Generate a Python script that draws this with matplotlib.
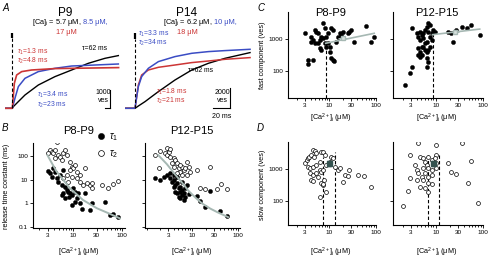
import numpy as np
import matplotlib
matplotlib.use('Agg')
import matplotlib.pyplot as plt
import matplotlib.transforms as mt
from matplotlib.ticker import FixedLocator, NullLocator, LogLocator, NullFormatter, FixedFormatter

plt.rcParams['font.family'] = ['Liberation Sans', 'DejaVu Sans']
plt.rcParams['mathtext.fontset'] = 'custom'
plt.rcParams['mathtext.rm'] = 'Liberation Sans'
plt.rcParams['mathtext.it'] = 'Liberation Sans:italic'
plt.rcParams['mathtext.sf'] = 'Liberation Sans'

# ---------------- data ----------------
RED = '#cc3535'
BLUE = '#3a4cc4'
GRAYFIT = '#a6b8b3'
MEANC = '#33524f'

# Panel A, P9 traces (time ms, vesicles)
p9_red_t = [-8.6, 0, 2.4, 5.1, 11, 22.7, 50, 125]
p9_red_v = [0, 0, 1366, 1820, 2005, 2093, 2170, 2224]
p9_blue_t = [-8.6, 0, 3.1, 7.1, 14.9, 30.6, 50.2, 69.8, 124.7]
p9_blue_v = [0, 0, 546, 1186, 1639, 2005, 2186, 2311, 2421]
p9_blk_t = [-8.6, 0, 1.2, 7.1, 14.9, 30.6, 50.2, 69.8, 89.4, 109, 124.7]
p9_blk_v = [0, 0, 91, 366, 727, 1273, 1732, 2093, 2459, 2732, 2880]

# Panel A, P14 traces
p14_t = [-11.8, 0, 2.0, 3.9, 7.8, 15.7, 27.5, 47, 66.7, 86.3, 105.9, 135.3]
p14_blue_v = [0, 0, 1170, 2170, 3170, 4000, 4670, 5170, 5500, 5670, 5770, 5900]
p14_red_v = [0, 0, 1170, 2330, 3330, 3830, 4100, 4330, 4570, 4730, 4900, 5070]
p14_blk_t = [-11.8, 0, 3.9, 11.8, 19.6, 27.5, 47, 66.7, 86.3, 105.9, 135.3]
p14_blk_v = [0, 0, 230, 670, 1170, 1670, 2830, 3830, 4500, 5000, 5570]

# Panel B, P8-P9
bl_t1_x = [3.05, 3.3, 3.57, 3.86, 4.18, 4.53, 4.89, 5.3, 6.2, 5.7, 6.7, 7.3, 7.85, 8.5, 9.2, 10, 10.8,
           6.2, 5.7, 6.7, 9.2, 11.7, 13.6, 14.8, 17.3, 23.8, 21.9, 45, 57, 66, 84, 10.8, 8.2, 12.6]
bl_t1_y = [23.2, 18.5, 13.4, 30, 21.7, 11.4, 8.2, 15.7, 25.6, 6.0, 5.1, 3.66, 3.1, 2.65, 2.25, 4.3, 3.1,
           2.65, 2.25, 1.63, 0.85, 1.63, 1.0, 0.58, 2.65, 1.0, 0.52, 1.1, 0.32, 0.35, 0.27, 1.17, 1.9, 2.65]
bl_t2_x = [4.5, 3.3, 3.57, 3.86, 4.18, 4.89, 5.3, 6.2, 6.7, 7.3, 4.18, 5.7, 9.2, 10, 8.5, 11.7, 17.3,
           7.3, 9.2, 11.7, 13.6, 13.6, 15.6, 21.9, 23.8, 38, 52, 66, 84, 6.2, 7.85, 8.5, 10.8, 3.05, 18.9, 23.8]
bl_t2_y = [400, 179, 151, 130, 179, 110, 94, 130, 179, 110, 80, 68, 35, 30, 25.6, 21.7, 30,
           15.7, 13.4, 11.4, 15.7, 8.2, 6.0, 6.0, 4.3, 6.0, 4.3, 6.3, 8.8, 11.4, 8.2, 57, 42, 130, 7.1, 7.1]
bl_fit_x = [2.9, 3.5, 4.5, 6, 8.5, 11, 15.6, 21, 30.4, 50, 91]
bl_fit_y = [110, 55, 22, 10.5, 4.3, 2.7, 1.4, 0.97, 0.62, 0.40, 0.23]

# Panel B, P12-P15
br_t1_x = [1.56, 2.0, 2.38, 2.81, 3.32, 3.6, 3.93, 4.27, 4.66, 5.07, 5.5, 4.27, 4.66, 5.5, 6.0, 6.5, 7.1,
           5.07, 6.0, 7.1, 3.93, 8.4, 12.8, 15.1, 19.5, 25, 41, 58, 3.32, 3.93, 4.66, 6.0, 7.7, 6.5, 5.5]
br_t1_y = [12.2, 9.7, 13.4, 15.7, 11.4, 8.2, 9.7, 6.0, 7.0, 4.3, 5.1, 3.1, 2.65, 3.1, 2.25, 2.65, 1.9,
           1.9, 3.66, 4.3, 5.1, 2.4, 2.04, 1.29, 0.72, 3.4, 0.49, 0.28, 18.5, 15.7, 13.4, 8.2, 6.0, 1.38, 1.63]
br_t2_x = [1.51, 2.0, 2.58, 2.81, 3.06, 3.15, 3.32, 3.93, 4.27, 4.66, 3.93, 5.07, 6.0, 6.5, 5.5, 4.66,
           7.1, 7.7, 7.7, 1.85, 12.8, 25, 15.1, 19.5, 35, 44, 58, 3.6, 5.5, 8.4, 6.0, 4.27, 9.1, 2.81, 3.2]
br_t2_y = [110, 163, 130, 110, 179, 143, 94, 80, 68, 49, 35, 30, 35, 25.6, 21.7, 18.5,
           30, 57, 15.7, 30, 25.6, 35, 4.3, 4.0, 4.0, 6.3, 3.9, 49, 42, 35, 15.7, 13.4, 21.7, 211, 200]
br_fit_x = [1.8, 2.8, 4.3, 6, 8.4, 12, 16.4, 25, 36, 62]
br_fit_y = [110, 45, 16, 7.5, 3.3, 1.7, 1.0, 0.6, 0.42, 0.26]

# Panel C (fast component)
cl_x = [3.0, 3.53, 3.5, 4.5, 4.16, 4.5, 4.16, 4.9, 5.3, 5.75, 4.9, 5.75, 6.25, 6.8, 7.35, 8.0, 6.8, 6.25,
        8.0, 7.35, 8.7, 9.4, 9.4, 10.2, 8.7, 10.2, 11.1, 12, 12.5, 11.1, 12, 14.2, 15.3, 16.7, 18.1, 19.6,
        25, 27, 29.5, 34.7, 61.6, 78.7, 92]
cl_y = [1545, 166, 222, 222, 1210, 950, 840, 1960, 1740, 1545, 750, 750, 950, 1210, 3200, 2220, 460, 520,
        750, 1075, 1210, 1545, 750, 585, 585, 406, 251, 222, 211, 2220, 1960, 840, 1210, 1545, 1370, 1740,
        1545, 1740, 1960, 840, 2630, 840, 1210]
cl_fit_x = [8.4, 92]
cl_fit_y = [750, 1545]
cl_mean = (19.6, 1075)
cl_mean_xerr = 4
cl_break = (8.4, 750)

cr_x = [2.24, 2.86, 3.1, 3.1, 4.28, 4.65, 5.04, 6.44, 6.97, 6.7, 3.96, 4.28, 4.65, 4.65, 5.04, 5.46, 5.46,
        5.93, 6.44, 6.97, 7.57, 6.97, 5.93, 6.44, 7.57, 8.2, 8.2, 8.87, 9.64, 5.46, 5.93, 6.44, 6.97, 7.57,
        5.04, 4.28, 4.65, 18.4, 21.7, 23.5, 35.4, 45.2, 57.6, 86, 27.7]
cr_y = [36, 85, 137, 2220, 320, 282, 320, 251, 197, 137, 1545, 1210, 1740, 950, 1370, 1545, 1075,
        1960, 2500, 3200, 2820, 1740, 750, 840, 1210, 1545, 950, 1960, 1740, 585, 460, 406, 460, 585,
        585, 520, 406, 1740, 1545, 840, 2500, 2220, 2820, 1370, 1960]
cr_fit_x = [8.6, 86]
cr_fit_y = [1400, 2100]
cr_mean = (25.5, 1740)
cr_mean_xerr = 5
cr_break = (8.6, 1400)

# Panel D (slow component)
dl_x = [3.0, 3.27, 3.53, 3.63, 3.53, 4.16, 4.5, 4.9, 5.3, 4.73, 3.87, 4.5, 5.3, 6.25, 6.8, 7.35, 8.0,
        6.25, 6.8, 7.35, 8.7, 3.87, 4.5, 5.3, 5.75, 4.16, 4.5, 6.8, 7.35, 6.25, 8.7, 10.2, 10.7, 12, 13.1,
        15.3, 16.7, 21.3, 25, 27, 19.6, 40.8, 56, 78.7, 7.7, 7.35]
dl_y = [1546, 1970, 2220, 2510, 1214, 2840, 4080, 3800, 3200, 2510, 1075, 1214, 1370, 1745, 3610, 3440,
        2840, 953, 844, 953, 1370, 748, 662, 748, 587, 460, 428, 361, 320, 137, 197, 1745, 2510, 2220,
        1214, 953, 1075, 662, 631, 953, 408, 662, 616, 284, 460, 336]
dl_mean = (9.7, 1546)
dl_mean_yerr = 250
dl_dash_x = [7.35, 13.1]
dl_dash_top = [2510, 3600]

dr_x = [4.28, 10.4, 35.4, 2.86, 4.65, 5.46, 6.97, 5.93, 8.2, 10.4, 9.64, 10.4, 6.44, 5.46, 6.97, 8.2,
        10.4, 3.65, 3.96, 4.28, 5.93, 6.97, 5.04, 8.2, 2.86, 3.96, 5.46, 6.97, 8.2, 5.93, 6.97, 4.65,
        2.63, 2.06, 18.4, 21.7, 27.7, 49.6, 57.6, 79.5]
dr_y = [6600, 6000, 6600, 2840, 2510, 2220, 2510, 1745, 1970, 2840, 2220, 1546, 1370, 1075, 1075, 953,
        1075, 1370, 953, 748, 748, 587, 587, 662, 545, 460, 460, 361, 336, 251, 197, 284, 207, 70, 1546,
        844, 695, 361, 1830, 84]
dr_mean = (8.87, 1546)
dr_mean_yerr = 300
dr_dash_x = [6.97, 11.9]
dr_dash_top = [2840, 3200]

xtick_vals = [3, 10, 30, 100]
xtick_labels = ['3', '10', '30', '100']

# ---------------- figure ----------------
W, H = 490, 258
fig = plt.figure(figsize=(W / 100, H / 100), dpi=100)
PX = mt.Affine2D().scale(1 / W, -1 / H).translate(0, 1) + fig.transFigure


def axpx(l, t, r, b):
    return fig.add_axes([l / W, 1 - b / H, (r - l) / W, (b - t) / H])


def txt(x, y, s, size=5.2, color='black', ha='left', va='center', **kw):
    fig.text(x, y, s, transform=PX, fontsize=size, color=color, ha=ha, va=va, **kw)


# ---- Panel A ----
def trace_axes(l, t, r, b, xlim, ylim):
    ax = axpx(l, t, r, b)
    ax.set_xlim(*xlim)
    ax.set_ylim(*ylim)
    ax.axis('off')
    return ax

axA1 = trace_axes(5, 25, 122, 115, (-8.6, 129), (-366, 4552))
axA1.plot(p9_blk_t, p9_blk_v, color='black', lw=1.0)
axA1.plot(p9_blue_t, p9_blue_v, color=BLUE, lw=1.1)
axA1.plot(p9_red_t, p9_red_v, color=RED, lw=1.2)
axA1.plot([-0.7, -0.7], [0, 3850], color='black', lw=0.8, ls=(0, (3, 2)))
axA1.plot([-0.7, -0.7], [3850, 4110], color='black', lw=1.6, solid_capstyle='butt')
# scale bar 1000 ves
axA1.plot([115.3, 115.3], [0, 1000], color='black', lw=0.8)
axA1.plot([109.5, 115.3], [0, 0], color='black', lw=0.8)

axA2 = trace_axes(125, 25, 252, 115, (-11.8, 137.6), (-670, 8330))
axA2.plot(p14_blk_t, p14_blk_v, color='black', lw=1.0)
axA2.plot(p14_t, p14_red_v, color=RED, lw=1.1)
axA2.plot(p14_t, p14_blue_v, color=BLUE, lw=1.1)
axA2.plot([-0.5, -0.5], [0, 6900], color='black', lw=0.8, ls=(0, (3, 2)))
axA2.plot([-0.5, -0.5], [6900, 7500], color='black', lw=1.6, solid_capstyle='butt')
# scale bars 2000 ves, 20 ms
axA2.plot([111.8, 111.8], [0, 2000], color='black', lw=0.8)
axA2.plot([91.8, 111.8], [0, 0], color='black', lw=0.8)

txt(2, 8, 'A', size=7, style='italic')
txt(65, 13, 'P9', size=8.5, ha='center')
txt(81.5, 23, '[Ca]$_\\mathrm{i}$ = 5.7 \u03bcM,', size=5.3, ha='right')
txt(83, 23, '8.5 \u03bcM,', size=5.3, color=BLUE)
txt(66, 33, '17 \u03bcM', size=5.3, color=RED, ha='center')
txt(17, 51.5, '$\\tau_1$=1.3 ms', size=4.9, color=RED)
txt(17, 61, '$\\tau_2$=4.8 ms', size=4.9, color=RED)
txt(82, 49, '\u03c4=62 ms', size=4.9)
txt(37, 95, '$\\tau_1$=3.4 ms', size=4.9, color=BLUE)
txt(37, 104.5, '$\\tau_2$=23 ms', size=4.9, color=BLUE)
txt(103, 93, '1000', size=5.0, ha='center')
txt(103, 101, 'ves', size=5.0, ha='center')

txt(187, 13, 'P14', size=8.5, ha='center')
txt(212.5, 23, '[Ca]$_\\mathrm{i}$ = 6.2 \u03bcM,', size=5.3, ha='right')
txt(214, 23, '10 \u03bcM,', size=5.3, color=BLUE)
txt(187, 33, '18 \u03bcM', size=5.3, color=RED, ha='center')
txt(138, 33.5, '$\\tau_1$=3.3 ms', size=4.9, color=BLUE)
txt(138, 43, '$\\tau_2$=34 ms', size=4.9, color=BLUE)
txt(188, 71, '\u03c4=62 ms', size=4.9)
txt(156, 91.5, '$\\tau_1$=1.8 ms', size=4.9, color=RED)
txt(156, 101, '$\\tau_2$=21 ms', size=4.9, color=RED)
txt(222, 92, '2000', size=5.0, ha='center')
txt(222, 100, 'ves', size=5.0, ha='center')
txt(222, 116, '20 ms', size=5.0, ha='center')


# ---- scatter axes helper ----
def style_axes(ax, xlim, ylim, yticks, yticklabels, show_ylabels):
    ax.set_xscale('log')
    ax.set_yscale('log')
    ax.set_xlim(*xlim)
    ax.set_ylim(*ylim)
    for s in ['top', 'right']:
        ax.spines[s].set_visible(False)
    for s in ['left', 'bottom']:
        ax.spines[s].set_linewidth(0.8)
    ax.xaxis.set_major_locator(FixedLocator(xtick_vals))
    ax.xaxis.set_major_formatter(FixedFormatter(xtick_labels))
    ax.xaxis.set_minor_locator(LogLocator(base=10, subs=np.arange(1, 10), numticks=20))
    ax.xaxis.set_minor_formatter(NullFormatter())
    ax.yaxis.set_major_locator(FixedLocator(yticks))
    ax.yaxis.set_minor_locator(NullLocator())
    if show_ylabels:
        ax.yaxis.set_major_formatter(FixedFormatter(yticklabels))
    else:
        ax.yaxis.set_major_formatter(NullFormatter())
    ax.tick_params(which='both', direction='out', width=0.6, labelsize=4.6, pad=1.5)
    ax.tick_params(which='major', length=2.2)
    ax.tick_params(which='minor', length=1.6)


def filled(ax, x, y, **kw):
    return ax.plot(x, y, 'o', ms=3.0, mfc='black', mec='black', mew=0.3, ls='none', **kw)[0]


def hollow(ax, x, y, **kw):
    return ax.plot(x, y, 'o', ms=2.8, mfc='white', mec='black', mew=0.5, ls='none', **kw)[0]


B_yt = [0.1, 1, 10, 100]
B_ytl = ['0.1', '1', '10', '100']
B_ylim = (0.091, 354)

axBL = axpx(33, 143, 125, 228)
style_axes(axBL, (1.47, 115), B_ylim, B_yt, B_ytl, True)
h2 = hollow(axBL, bl_t2_x, bl_t2_y, label='$\\tau_2$')
h1 = filled(axBL, bl_t1_x, bl_t1_y, label='$\\tau_1$')
axBL.plot(bl_fit_x, bl_fit_y, color=GRAYFIT, lw=1.4, zorder=5, solid_capstyle='round')
leg = axBL.legend(handles=[h1, h2], loc='upper left', bbox_to_anchor=(98, 131), bbox_transform=PX,
                  frameon=False, fontsize=7, handlelength=0.7, handletextpad=0.4, labelspacing=0.55,
                  borderpad=0, borderaxespad=0, markerscale=1.5)

axBR = axpx(145, 143, 240, 228)
style_axes(axBR, (0.925, 112), B_ylim, B_yt, B_ytl, False)
hollow(axBR, br_t2_x, br_t2_y)
filled(axBR, br_t1_x, br_t1_y)
axBR.plot(br_fit_x, br_fit_y, color=GRAYFIT, lw=1.4, zorder=5, solid_capstyle='round')

txt(2, 128, 'B', size=7, style='italic')
txt(79, 131, 'P8-P9', size=8, ha='center')
txt(192, 131, 'P12-P15', size=8, ha='center')
txt(6, 186, 'release time constant (ms)', size=5.2, rotation=90, ha='center')
CA_LABEL = '[Ca$^{2+}$]$_\\mathrm{i}$ (\u03bcM)'
txt(79, 252, CA_LABEL, size=5.2, ha='center')
txt(192, 252, CA_LABEL, size=5.2, ha='center')

# ---- Panel C ----
C_yt = [100, 1000]
C_ytl = ['100', '1000']

axCL = axpx(288, 12, 376, 98)
style_axes(axCL, (1.31, 100.5), (14.1, 7260), C_yt, C_ytl, True)
axCL.plot([cl_break[0], cl_break[0]], [14.1, cl_break[1]], color='black', lw=0.8, ls=(0, (3, 2)))
filled(axCL, cl_x, cl_y)
axCL.plot(cl_fit_x, cl_fit_y, color=GRAYFIT, lw=1.2, zorder=5)
axCL.errorbar([cl_mean[0]], [cl_mean[1]], xerr=[[cl_mean_xerr], [cl_mean_xerr * 1.3]], fmt='s', ms=3,
              mfc='#d8e0de', mec=GRAYFIT, ecolor=GRAYFIT, elinewidth=0.7, capsize=0, zorder=6)

axCR = axpx(393, 12, 483, 98)
style_axes(axCR, (1.25, 101), (14.1, 7260), C_yt, C_ytl, False)
axCR.plot([cr_break[0], cr_break[0]], [14.1, cr_break[1]], color='black', lw=0.8, ls=(0, (3, 2)))
filled(axCR, cr_x, cr_y)
axCR.plot(cr_fit_x, cr_fit_y, color=GRAYFIT, lw=1.2, zorder=5)
axCR.errorbar([cr_mean[0]], [cr_mean[1]], xerr=[[cr_mean_xerr], [cr_mean_xerr * 1.3]], fmt='s', ms=3,
              mfc='#d8e0de', mec=GRAYFIT, ecolor=GRAYFIT, elinewidth=0.7, capsize=0, zorder=6)

txt(257, 8, 'C', size=7, style='italic')
txt(331, 13, 'P8-P9', size=8, ha='center')
txt(437, 13, 'P12-P15', size=8, ha='center')
txt(262, 55, 'fast component (ves)', size=5.2, rotation=90, ha='center')
txt(331, 118, CA_LABEL, size=5.2, ha='center')
txt(437, 118, CA_LABEL, size=5.2, ha='center')

# ---- Panel D ----
axDL = axpx(288, 142, 376, 225)
style_axes(axDL, (1.31, 100.5), (17.5, 7260), C_yt, C_ytl, True)
for xd, yd in zip(dl_dash_x, dl_dash_top):
    axDL.plot([xd, xd], [17.5, yd], color='black', lw=0.8, ls=(0, (3, 2)))
hollow(axDL, dl_x, dl_y)
axDL.errorbar([dl_mean[0]], [dl_mean[1]], yerr=dl_mean_yerr, fmt='s', ms=3.6, mfc=MEANC, mec=MEANC,
              ecolor=MEANC, elinewidth=0.8, capsize=1.2, zorder=6)

axDR = axpx(393, 142, 483, 225)
style_axes(axDR, (1.25, 101), (17.5, 7260), C_yt, C_ytl, False)
for xd, yd in zip(dr_dash_x, dr_dash_top):
    axDR.plot([xd, xd], [17.5, yd], color='black', lw=0.8, ls=(0, (3, 2)))
hollow(axDR, dr_x, dr_y)
axDR.errorbar([dr_mean[0]], [dr_mean[1]], yerr=dr_mean_yerr, fmt='s', ms=3.6, mfc=MEANC, mec=MEANC,
              ecolor=MEANC, elinewidth=0.8, capsize=1.2, zorder=6)

txt(257, 128, 'D', size=7, style='italic')
txt(262, 185, 'slow component (ves)', size=5.2, rotation=90, ha='center')
txt(331, 252, CA_LABEL, size=5.2, ha='center')
txt(437, 252, CA_LABEL, size=5.2, ha='center')

fig.savefig('out.png', dpi=100)
